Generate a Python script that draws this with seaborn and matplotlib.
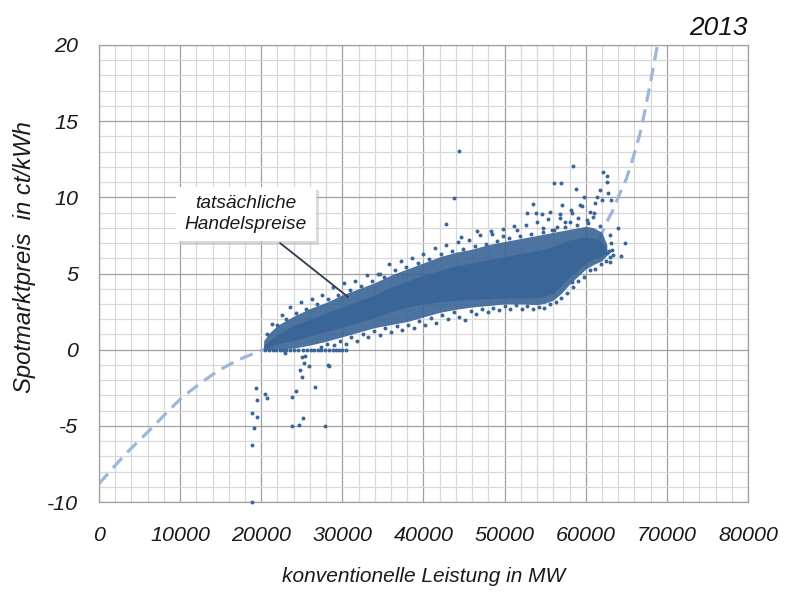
import numpy as np
import pandas as pd
import seaborn as sns
import matplotlib
matplotlib.use("Agg")
import matplotlib.pyplot as plt
from matplotlib import font_manager
from matplotlib.ticker import MultipleLocator
import matplotlib.patheffects as pe

# ---------------- data ----------------
# dense cloud envelope
env_x = [20300, 21000, 22000, 24000, 26000, 28000, 30000, 32000, 34000, 36000, 38000, 40000, 42000, 44000,
         46000, 48000, 50000, 52000, 54000, 55000, 56000, 57000, 58000, 59000, 60000, 61000, 62000, 62600]
halo_lo = [0.0, 0.0, 0.05, 0.1, 0.3, 0.55, 0.85, 1.15, 1.45, 1.65, 1.85, 2.15, 2.45, 2.65,
           2.8, 2.9, 3.0, 3.0, 2.95, 3.05, 3.25, 3.7, 4.3, 4.8, 5.3, 5.6, 5.85, 6.2]
halo_hi = [0.6, 1.1, 1.6, 2.2, 2.7, 3.1, 3.6, 4.0, 4.4, 4.9, 5.3, 5.7, 6.1, 6.4,
           6.6, 6.9, 7.1, 7.3, 7.5, 7.6, 7.7, 7.8, 7.9, 8.0, 8.1, 8.0, 7.7, 6.9]
core_lo = [0.1, 0.2, 0.4, 0.6, 0.9, 1.2, 1.5, 1.8, 2.1, 2.5, 2.8, 3.0, 3.15, 3.25,
           3.3, 3.35, 3.4, 3.4, 3.4, 3.5, 3.7, 4.2, 4.8, 5.2, 5.7, 6.0, 6.1, 6.4]
core_hi = [0.3, 0.6, 1.0, 1.6, 2.0, 2.4, 2.8, 3.2, 3.6, 4.1, 4.5, 4.9, 5.2, 5.5,
           5.7, 5.9, 6.1, 6.3, 6.5, 6.6, 6.8, 7.0, 7.2, 7.3, 7.4, 7.3, 7.1, 6.6]

# individual trade prices outside the dense cloud
upper_x = [44390, 43810, 42790, 44600, 46650, 48300, 49850, 51500, 58490, 56140, 57000, 62110, 62680, 62600,
           58780, 59840, 53550, 57130, 52740, 53880, 54590, 55610, 59310, 61370, 61780, 61980, 62800, 63090,
           61160, 60540, 60950, 60130, 58280, 59100, 58070, 56840, 57460, 55820, 56430, 54780, 64030, 64780,
           64320, 63010, 63210, 62600, 63010, 58280, 34650]
upper_y = [13.05, 9.98, 8.25, 7.42, 7.79, 7.79, 7.46, 7.86, 12.06, 10.95, 10.95, 11.65, 11.43, 11.0,
           10.57, 10.05, 9.57, 9.5, 8.96, 8.96, 8.91, 9.06, 9.5, 10.05, 10.49, 9.83, 10.27, 9.83,
           9.6, 9.06, 8.73, 8.52, 8.96, 8.63, 8.4, 8.63, 8.4, 7.86, 8.08, 7.97, 7.97, 6.98,
           6.15, 6.11, 6.55, 6.33, 5.78, 4.47, 4.97]
edge_top_x = [20700, 21300, 21900, 22500, 23100, 23600, 24300, 24900, 25500, 26200, 26900, 27500, 28200, 28800,
              29500, 30200, 30900, 31600, 32300, 33000, 33700, 34400, 35100, 35800, 36500, 37200, 37900, 38600,
              39300, 40000, 40700, 41400, 42100, 42800, 43500, 44200, 44900, 45600, 46300, 47000, 47700, 48400,
              49100, 49800, 50500, 51200, 51900, 52600, 53300, 54000, 54700, 55400, 56100, 56800, 57500, 58200,
              58900, 59600, 60300, 61000, 61700]
edge_top_y = [1.0, 1.7, 1.6, 2.3, 2.0, 2.8, 2.4, 3.1, 2.7, 3.3, 3.0, 3.6, 3.3, 4.1,
              3.6, 4.4, 3.9, 4.5, 4.2, 4.9, 4.5, 5.0, 4.8, 5.6, 5.2, 5.8, 5.4, 6.0,
              5.7, 6.3, 5.95, 6.7, 6.3, 6.9, 6.45, 7.1, 6.6, 7.2, 6.8, 7.5, 6.95, 7.6,
              7.15, 7.9, 7.3, 8.1, 7.45, 8.2, 7.6, 8.4, 7.7, 8.6, 7.85, 8.9, 8.05, 9.2,
              8.2, 9.4, 8.3, 9.0, 8.1]
edge_bot_x = [27400, 28100, 29000, 29700, 30400, 31100, 31800, 32500, 33200, 33900, 34600, 35300, 36000, 36700,
              37400, 38100, 38800, 39500, 40200, 40900, 41600, 42300, 43000, 43700, 44400, 45100, 45800, 46500,
              47200, 47900, 48600, 49300, 50000, 50700, 51400, 52100, 52800, 53500, 54200, 54900, 55600, 56300,
              57000, 57700, 58400, 59100, 59800, 60500, 61200, 61900, 62500, 62900, 63100, 63300, 63000]
edge_bot_y = [0.2, 0.35, 0.3, 0.55, 0.4, 0.8, 0.6, 1.0, 0.85, 1.25, 0.95, 1.4, 1.15, 1.55,
              1.3, 1.65, 1.4, 1.85, 1.6, 2.05, 1.75, 2.3, 2.0, 2.45, 2.15, 1.95, 2.55, 2.35,
              2.7, 2.5, 2.75, 2.6, 2.85, 2.65, 2.9, 2.7, 2.85, 2.65, 2.8, 2.75, 3.0, 3.1,
              3.4, 3.7, 4.1, 4.5, 4.8, 5.2, 5.3, 5.6, 5.8, 6.5, 7.0, 6.2, 7.5]
zero_x = [20500, 21000, 21400, 21800, 22300, 22700, 23100, 23600, 24100, 24500, 25100, 25600, 26100, 26500,
          27000, 27400, 27900, 28300, 28800, 29200, 29600, 30000, 30400]
zero_y = [0.0] * len(zero_x)
neg_x = [24990, 25400, 22930, 24830, 24990, 25240, 25890, 28240, 28400, 19320, 20430, 20680, 19480, 18900,
         19440, 19070, 18870, 18900, 23840, 24290, 23840, 24700, 25110, 26590, 27830]
neg_y = [-0.46, -0.41, -0.24, -1.35, -1.77, -0.85, -1.07, -1.03, -1.06, -2.5, -2.9, -3.17, -3.3, -4.16,
         -4.44, -5.14, -6.24, -10.0, -3.13, -2.69, -5.0, -4.94, -4.46, -2.43, -5.03]

# dashed model curve
curve_x = [0, 1000, 2000, 3000, 4500, 6500, 8500, 10200, 12500, 14500, 17000, 19800, 22000, 25000, 30000,
           35000, 40000, 45000, 50000, 55000, 58000, 60000, 61200, 61800, 62600, 63300, 64000, 65000, 65900,
           66700, 67300, 68000, 68840]
curve_y = [-8.8, -8.2, -7.6, -7.0, -6.2, -5.15, -4.05, -3.15, -2.2, -1.45, -0.7, -0.1, 0.35, 1.1, 2.0,
           2.7, 3.3, 3.9, 4.5, 5.3, 5.9, 6.5, 7.0, 7.4, 8.4, 9.1, 10.0, 11.2, 12.7,
           14.2, 15.7, 17.6, 20.0]

x_ticks = [0, 10000, 20000, 30000, 40000, 50000, 60000, 70000, 80000]
y_ticks = [-10, -5, 0, 5, 10, 15, 20]

# ---------------- style ----------------
sns.set_theme(style="white")
names = {f.name for f in font_manager.fontManager.ttflist}
narrow = "Liberation Sans Narrow" in names
fam = "Liberation Sans Narrow" if narrow else "Liberation Sans"
k = 1.0 if narrow else 0.86
plt.rcParams["font.family"] = [fam, "DejaVu Sans"]

DOT = "#3A6597"
CURVE = "#9DB6D9"
MAJ = "#A0A0A0"
MIN = "#D8D8D8"

fig = plt.figure(figsize=(7.97, 5.92), dpi=100)
ax = fig.add_axes([0.1242, 0.152, 0.8143, 0.772])

sns.lineplot(x=curve_x, y=curve_y, ax=ax, color=CURVE, linewidth=2.3, sort=False, zorder=1.5)
ax.lines[-1].set_dashes([4.2, 2.4])

# dense cloud
ax.fill_between(env_x, halo_lo, halo_hi, color=DOT, alpha=0.9, linewidth=0, zorder=2)
ax.fill_between(env_x, core_lo, core_hi, color=DOT, alpha=1.0, linewidth=0, zorder=2)

pts = pd.DataFrame({
    "x": upper_x + edge_top_x + edge_bot_x + zero_x + neg_x,
    "y": upper_y + edge_top_y + edge_bot_y + zero_y + neg_y,
})
sns.scatterplot(data=pts, x="x", y="y", ax=ax, color=DOT, s=8, linewidth=0,
                marker="o", zorder=3, clip_on=False, legend=False)

ax.set_xlim(0, 80000)
ax.set_ylim(-10, 20)
ax.set_xticks(x_ticks)
ax.set_yticks(y_ticks)
ax.set_xticklabels([str(v) for v in x_ticks])
ax.set_yticklabels([str(v) for v in y_ticks])
ax.xaxis.set_minor_locator(MultipleLocator(2000))
ax.yaxis.set_minor_locator(MultipleLocator(1))
ax.set_axisbelow(True)
ax.grid(which="minor", color=MIN, linewidth=0.9)
ax.grid(which="major", color=MAJ, linewidth=0.9)
for sp in ax.spines.values():
    sp.set_color(MAJ)
    sp.set_linewidth(0.9)

ax.tick_params(which="major", length=6, width=0.9, color=MAJ, direction="out",
               labelsize=18 * k, pad=9)
ax.tick_params(axis="x", which="major", pad=11)
ax.tick_params(which="minor", length=0)
for lab in ax.get_xticklabels() + ax.get_yticklabels():
    lab.set_fontstyle("italic")
    lab.set_color("#1a1a1a")

ax.set_xlabel("konventionelle Leistung in MW", fontsize=17.5 * k, fontstyle="italic", color="#1a1a1a")
ax.set_ylabel("Spotmarktpreis  in ct/kWh", fontsize=20 * k, fontstyle="italic", color="#1a1a1a")
ax.xaxis.set_label_coords(0.5, -0.143)
ax.yaxis.set_label_coords(-0.097, 0.535)

fig.text(0.9385, 0.941, "2013", ha="right", va="baseline", fontsize=22 * k,
         fontstyle="italic", color="#111111")

# annotation box with soft shadow
t = ax.text(18125, 8.91, "tatsächliche\nHandelspreise", ha="center", va="center", fontsize=16 * k,
            fontstyle="italic", color="#1a1a1a", linespacing=1.25, zorder=6,
            bbox=dict(boxstyle="square,pad=0.45", fc="white", ec="none"))
t.get_bbox_patch().set_path_effects([
    pe.SimplePatchShadow(offset=(2.5, -2.5), shadow_rgbFace="#BBBBBB", alpha=0.5),
    pe.Normal(),
])
ax.annotate("", xy=(30700, 3.46), xytext=(22320, 7.0),
            arrowprops=dict(arrowstyle="-", color="#2E3C52", lw=1.3, shrinkA=0, shrinkB=0),
            zorder=7)

fig.savefig("out.png", dpi=100)
